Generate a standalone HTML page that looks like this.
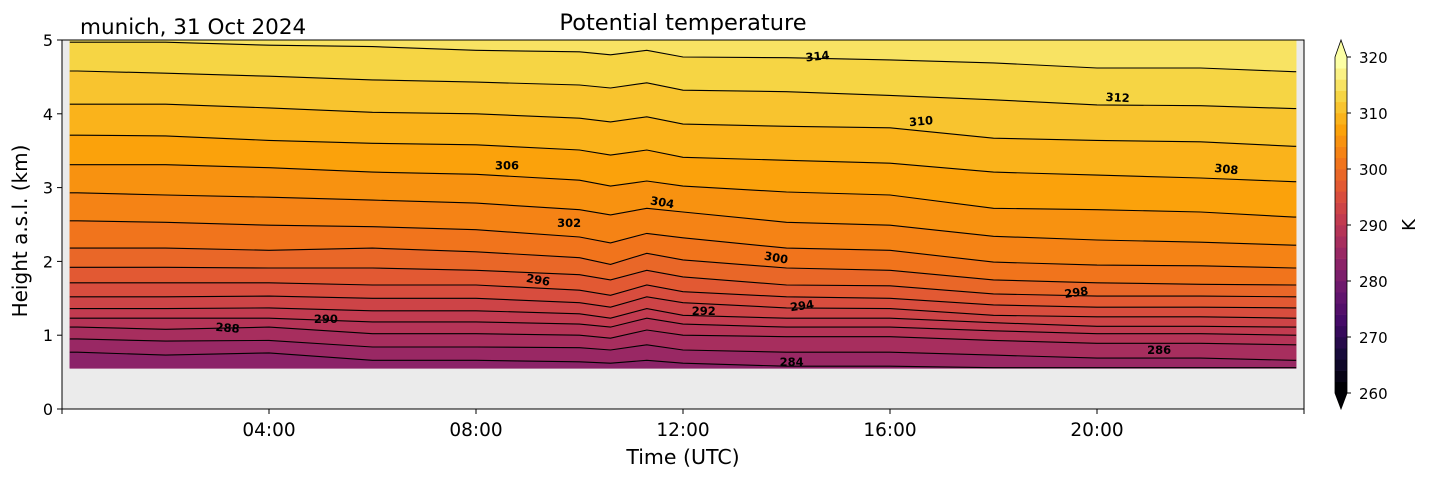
<!DOCTYPE html>
<html><head><meta charset="utf-8"><style>
html,body{margin:0;padding:0;background:#fff;}
svg{display:block;font-family:"DejaVu Sans","Liberation Sans",sans-serif;}
</style></head><body>
<svg id="chart" width="1429" height="478" viewBox="0 0 1429 478" xmlns="http://www.w3.org/2000/svg">
<g id="plot"></g>
<g id="axes"></g>
<g id="cbar"></g>
</svg>
<script>
// ---- data ----
const times = [0.3, 2, 4, 6, 8, 10, 10.6, 11.3, 12, 14, 16, 18, 20, 22, 23.8];
const levels = [284, 286, 288, 290, 292, 294, 296, 298, 300, 302, 304, 306, 308, 310, 312, 314];
const h284 = [0.77,0.73,0.76,0.66,0.66,0.64,0.62,0.66,0.62,0.58,0.58,0.56,0.56,0.56,0.56];
const h286 = [0.95,0.92,0.93,0.84,0.84,0.83,0.80,0.87,0.80,0.77,0.77,0.73,0.69,0.69,0.66];
const h288 = [1.11,1.08,1.11,1.02,1.02,1.00,0.96,1.07,1.00,0.98,0.98,0.93,0.89,0.89,0.87];
const h290 = [1.23,1.23,1.23,1.18,1.18,1.15,1.11,1.23,1.15,1.11,1.11,1.06,1.02,1.02,1.00];
const h292 = [1.36,1.36,1.37,1.33,1.33,1.29,1.23,1.36,1.27,1.23,1.23,1.17,1.12,1.12,1.11];
const h294 = [1.52,1.52,1.53,1.50,1.50,1.44,1.38,1.52,1.44,1.37,1.36,1.27,1.25,1.25,1.23];
const h296 = [1.71,1.71,1.71,1.68,1.68,1.61,1.54,1.68,1.59,1.52,1.50,1.41,1.38,1.38,1.37];
const h298 = [1.92,1.92,1.91,1.91,1.88,1.82,1.75,1.88,1.79,1.68,1.67,1.56,1.53,1.53,1.52];
const h300 = [2.18,2.18,2.15,2.18,2.13,2.05,1.96,2.11,2.02,1.91,1.88,1.75,1.71,1.69,1.68];
const h302 = [2.55,2.53,2.49,2.47,2.43,2.33,2.25,2.38,2.32,2.18,2.15,1.99,1.95,1.94,1.91];
const h304 = [2.93,2.90,2.87,2.83,2.79,2.70,2.63,2.72,2.67,2.53,2.49,2.34,2.29,2.26,2.22];
const h306 = [3.31,3.31,3.27,3.21,3.18,3.10,3.02,3.09,3.02,2.94,2.90,2.72,2.70,2.67,2.60];
const h308 = [3.71,3.70,3.64,3.60,3.58,3.51,3.44,3.51,3.41,3.37,3.33,3.21,3.17,3.13,3.08];
const h310 = [4.13,4.13,4.08,4.02,4.00,3.94,3.89,3.96,3.86,3.83,3.81,3.67,3.64,3.62,3.56];
const h312 = [4.58,4.55,4.51,4.46,4.43,4.39,4.35,4.42,4.32,4.30,4.25,4.19,4.12,4.11,4.07];
const h314 = [4.97,4.97,4.93,4.91,4.86,4.84,4.80,4.86,4.77,4.76,4.73,4.69,4.62,4.62,4.57];
const heights = [h284,h286,h288,h290,h292,h294,h296,h298,h300,h302,h304,h306,h308,h310,h312,h314];
const labelText = ["288","290","296","306","302","304","292","300","294","284","314","310","298","286","312","308"];
const labelTime = [3.2,5.1,9.2,8.6,9.8,11.6,12.4,13.8,14.3,14.1,14.6,16.6,19.6,21.2,20.4,22.5];
const labelHeight = [1.10,1.22,1.75,3.30,2.52,2.80,1.33,2.05,1.40,0.64,4.78,3.90,1.58,0.80,4.22,3.25];
const labelAngle = [5,0,10,0,0,10,0,10,-8,0,-6,-5,-8,0,3,6];
const yTicks = [0,1,2,3,4,5];
const xTicks = [4,8,12,16,20];
const xTickLabels = ["04:00","08:00","12:00","16:00","20:00"];
const cbTicks = [260,270,280,290,300,310,320];
const dataStart = 0.15, dataEnd = 23.85, dataBottom = 0.55;

// ---- scales ----
const X0=62, X1=1304, Y0=409, Y1=40;
const xs = h => X0 + (h/24)*(X1-X0);
const ys = k => Y0 - (k/5)*(Y0-Y1);
const CBY0=393, CBY1=57;
const cs = v => CBY0 - (v-260)/60*(CBY0-CBY1);
const stops=[[0,0,0,4],[0.1,22,11,57],[0.2,66,10,104],[0.3,106,23,110],[0.4,147,38,103],[0.5,188,55,84],[0.6,221,81,58],[0.7,243,120,25],[0.8,252,165,10],[0.9,246,215,70],[1,252,255,164]];
function inferno(t){t=Math.max(0,Math.min(1,t));for(let i=1;i<stops.length;i++){if(t<=stops[i][0]){const a=stops[i-1],b=stops[i];const f=(t-a[0])/(b[0]-a[0]);return `rgb(${Math.round(a[1]+f*(b[1]-a[1]))},${Math.round(a[2]+f*(b[2]-a[2]))},${Math.round(a[3]+f*(b[3]-a[3]))})`;}}}
const binColor = lo => inferno(((lo-260)/2)/29);
const NS="http://www.w3.org/2000/svg";
function mk(tag,attrs,parent){const e=document.createElementNS(NS,tag);for(const k in attrs)e.setAttribute(k,attrs[k]);parent.appendChild(e);return e;}
const plot=document.getElementById('plot'), axes=document.getElementById('axes'), cbar=document.getElementById('cbar');

const bg=mk('rect',{x:X0,y:Y1,width:X1-X0,height:Y0-Y1,fill:'#ebebeb'},plot);



function profile(arr){
  const pts=[[xs(dataStart),ys(arr[0])]];
  times.forEach((t,i)=>pts.push([xs(t),ys(arr[i])]));
  pts.push([xs(dataEnd),ys(arr[arr.length-1])]);
  return pts;
}
const P = p => p.map(q=>q[0].toFixed(1)+','+q[1].toFixed(1)).join(' ');
const bottomArr = times.map(()=>dataBottom);
const topArr = times.map(()=>5);
const bounds=[bottomArr].concat(heights).concat([topArr]);
for(let i=0;i<bounds.length-1;i++){
  const lo = i===0 ? levels[0]-2 : levels[i-1];
  const a=profile(bounds[i]), b=profile(bounds[i+1]).reverse();
  const poly=mk('polygon',{points:P(a.concat(b)),fill:binColor(lo),stroke:binColor(lo),'stroke-width':0.5},plot);
  
  
}
heights.forEach((arr,i)=>{
  const pl=mk('polyline',{points:P(profile(arr)),fill:'none',stroke:'#000','stroke-width':1.1},plot);
  
  
});
labelText.forEach((t,i)=>{
  const x=xs(labelTime[i]), y=ys(labelHeight[i]);
  const tx=mk('text',{x:x,y:y+4,'font-size':11.5,'font-weight':'bold','text-anchor':'middle',fill:'#000',transform:`rotate(${labelAngle[i]} ${x} ${y})`},plot);
  tx.textContent=t;
  
  
});

const fr=mk('rect',{x:X0,y:Y1,width:X1-X0,height:Y0-Y1,fill:'none',stroke:'#000','stroke-width':1},axes);


yTicks.forEach(v=>{
  const y=ys(v);
  mk('line',{x1:X0-5,x2:X0,y1:y,y2:y,stroke:'#000'},axes);
  const t=mk('text',{x:X0-9,y:y+6,'font-size':16,'text-anchor':'end',fill:'#000'},axes);
  t.textContent=v;
  
  
});
mk('line',{x1:X0,x2:X0,y1:Y0,y2:Y0+5,stroke:'#000'},axes);
xTicks.forEach((v,i)=>{
  const x=xs(v);
  mk('line',{x1:x,x2:x,y1:Y0,y2:Y0+5,stroke:'#000'},axes);
  const t=mk('text',{x:x,y:436,'font-size':18.5,'text-anchor':'middle',fill:'#000'},axes);
  t.textContent=xTickLabels[i];
  
  
});
mk('line',{x1:X1,x2:X1,y1:Y0,y2:Y0+5,stroke:'#000'},axes);
function txt(s,attrs,name){const t=mk('text',attrs,axes);t.textContent=s;return t;}
txt('Time (UTC)',{x:683,y:464,'font-size':20.5,'text-anchor':'middle',fill:'#000'},'x-axis-title');
txt('Height a.s.l. (km)',{x:27,y:231,'font-size':20,'text-anchor':'middle',fill:'#000',transform:'rotate(-90 27 231)'},'y-axis-title');
txt('Potential temperature',{x:683,y:30,'font-size':22.5,'text-anchor':'middle',fill:'#000'},'chart-title');
txt('munich, 31 Oct 2024',{x:80,y:34,'font-size':21.5,'text-anchor':'start',fill:'#000'},'location-date-label');

const CX0=1335, CX1=1347;
for(let i=0;i<30;i++){
  const lo=260+2*i;
  const r=mk('rect',{x:CX0,y:cs(lo+2),width:CX1-CX0,height:cs(lo)-cs(lo+2)+0.3,fill:binColor(lo)},cbar);
  
  
}
const tu=mk('polygon',{points:`${CX0},${cs(320)} ${CX1},${cs(320)} ${(CX0+CX1)/2},40`,fill:inferno(1)},cbar);


const td=mk('polygon',{points:`${CX0},${cs(260)} ${CX1},${cs(260)} ${(CX0+CX1)/2},409`,fill:inferno(0)},cbar);


mk('polygon',{points:`${CX0},${cs(320)} ${(CX0+CX1)/2},40 ${CX1},${cs(320)} ${CX1},${cs(260)} ${(CX0+CX1)/2},409 ${CX0},${cs(260)}`,fill:'none',stroke:'#000','stroke-width':0.8},cbar);
cbTicks.forEach(v=>{
  const y=cs(v);
  mk('line',{x1:CX1,x2:CX1+4,y1:y,y2:y,stroke:'#000'},cbar);
  const t=mk('text',{x:1359,y:y+6,'font-size':15,fill:'#000'},cbar);
  t.textContent=v;
  
  
});
const kl=mk('text',{x:1415,y:225,'font-size':18,'text-anchor':'middle',fill:'#000',transform:'rotate(-90 1415 225)'},cbar);
kl.textContent='K';


</script>
</body></html>
